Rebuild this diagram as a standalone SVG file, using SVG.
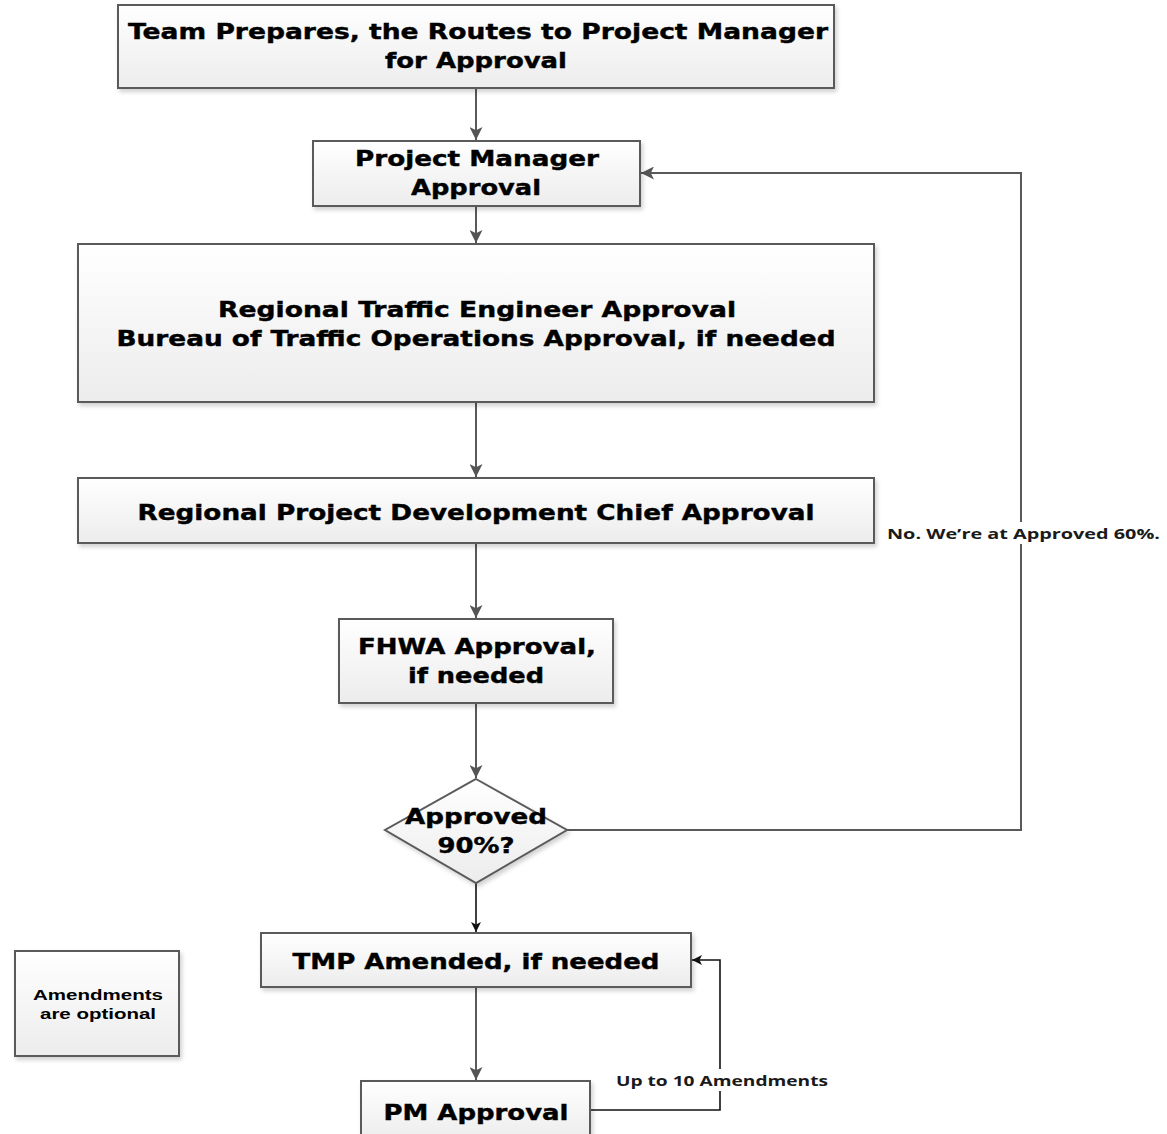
<svg xmlns="http://www.w3.org/2000/svg" width="1167" height="1134" viewBox="0 0 1167 1134">
<defs>
<linearGradient id="g" x1="0" y1="0" x2="0" y2="1">
<stop offset="0" stop-color="#ffffff"/>
<stop offset="1" stop-color="#ececec"/>
</linearGradient>
<filter id="sh" x="-5%" y="-5%" width="115%" height="120%">
<feDropShadow dx="2" dy="3" stdDeviation="2" flood-color="#000" flood-opacity="0.18"/>
</filter>
<marker id="ag" viewBox="0 0 10 10" refX="10" refY="5" markerWidth="13" markerHeight="13" markerUnits="userSpaceOnUse" orient="auto">
<path d="M0,0 L10,5 L0,10 L2.5,5 z" fill="#555"/>
</marker>
<marker id="ab" viewBox="0 0 10 10" refX="10" refY="5" markerWidth="10" markerHeight="10" markerUnits="userSpaceOnUse" orient="auto">
<path d="M0,0 L10,5 L0,10 L2.5,5 z" fill="#111"/>
</marker>
</defs>
<style>
.box{fill:url(#g);stroke:#5a5a5a;stroke-width:2;filter:url(#sh)}
.t{font-family:"DejaVu Sans",Verdana,sans-serif;font-weight:bold;font-size:21px;fill:#000;text-anchor:middle;stroke:#000;stroke-width:0.4}
.s{font-family:"Liberation Sans",Arial,sans-serif;font-weight:bold;font-size:14px;fill:#000;text-anchor:middle}
.l{font-family:"Open Sans","Liberation Sans",sans-serif;font-weight:bold;font-size:14px;fill:#1a1a1a}
.c{fill:none;stroke:#595959;stroke-width:2}
.cb{fill:none;stroke:#111;stroke-width:1.6}
</style>
<rect width="1167" height="1134" fill="#fff"/>

<g id="connectors">
<line class="c" x1="476" y1="88" x2="476" y2="140" marker-end="url(#ag)"/>
<line class="c" x1="476" y1="206" x2="476" y2="243" marker-end="url(#ag)"/>
<line class="c" x1="476" y1="402" x2="476" y2="477" marker-end="url(#ag)"/>
<line class="c" x1="476" y1="543" x2="476" y2="618" marker-end="url(#ag)"/>
<line class="c" x1="476" y1="703" x2="476" y2="778" marker-end="url(#ag)"/>
<polyline class="c" points="567,830 1021,830 1021,173 641,173" marker-end="url(#ag)"/>
<line class="cb" x1="476" y1="883" x2="476" y2="932" marker-end="url(#ab)"/>
<line class="c" x1="476" y1="987" x2="476" y2="1080" marker-end="url(#ag)"/>
<polyline class="cb" points="590,1110 720,1110 720,960 692,960" marker-end="url(#ab)"/>
<rect x="882" y="522" width="282" height="22" fill="#fff"/>
<text class="l" x="887" y="539" textLength="273" lengthAdjust="spacingAndGlyphs">No.  We’re at Approved 60%.</text>
<rect x="612" y="1069" width="220" height="22" fill="#fff"/>
<text class="l" x="616" y="1086" textLength="212" lengthAdjust="spacingAndGlyphs">Up to 10 Amendments</text>
</g>

<g id="n1">
<rect class="box" x="118" y="5" width="716" height="83"/>
<text class="t" x="478" y="39" textLength="700" lengthAdjust="spacingAndGlyphs">Team Prepares, the Routes to Project Manager</text>
<text class="t" x="476" y="68" textLength="182" lengthAdjust="spacingAndGlyphs">for Approval</text>
</g>
<g id="n2">
<rect class="box" x="313" y="141" width="327" height="65"/>
<text class="t" x="477" y="166" textLength="244" lengthAdjust="spacingAndGlyphs">Project Manager</text>
<text class="t" x="476" y="195" textLength="130" lengthAdjust="spacingAndGlyphs">Approval</text>
</g>
<g id="n3">
<rect class="box" x="78" y="244" width="796" height="158"/>
<text class="t" x="477" y="317" textLength="518" lengthAdjust="spacingAndGlyphs">Regional Traffic Engineer Approval</text>
<text class="t" x="476" y="346" textLength="719" lengthAdjust="spacingAndGlyphs">Bureau of Traffic Operations Approval, if needed</text>
</g>
<g id="n4">
<rect class="box" x="78" y="478" width="796" height="65"/>
<text class="t" x="476" y="520" textLength="677" lengthAdjust="spacingAndGlyphs">Regional Project Development Chief Approval</text>
</g>
<g id="n5">
<rect class="box" x="339" y="619" width="274" height="84"/>
<text class="t" x="477" y="654" textLength="238" lengthAdjust="spacingAndGlyphs">FHWA Approval,</text>
<text class="t" x="476" y="683" textLength="136" lengthAdjust="spacingAndGlyphs">if needed</text>
</g>
<g id="n6">
<polygon class="box" points="476,779 567,830 476,883 385,830"/>
<text class="t" x="476" y="824" textLength="142" lengthAdjust="spacingAndGlyphs">Approved</text>
<text class="t" x="476" y="853" textLength="77" lengthAdjust="spacingAndGlyphs">90%?</text>
</g>
<g id="n7">
<rect class="box" x="261" y="933" width="430" height="54"/>
<text class="t" x="476" y="969" textLength="367" lengthAdjust="spacingAndGlyphs">TMP Amended, if needed</text>
</g>
<g id="n8">
<rect class="box" x="361" y="1081" width="229" height="60"/>
<text class="t" x="476" y="1120" textLength="185" lengthAdjust="spacingAndGlyphs">PM Approval</text>
</g>
<g id="n9">
<rect class="box" x="15" y="951" width="164" height="105"/>
<text class="s" x="98" y="1000" textLength="130" lengthAdjust="spacingAndGlyphs">Amendments</text>
<text class="s" x="98" y="1019" textLength="116" lengthAdjust="spacingAndGlyphs">are optional</text>
</g>
</svg>
